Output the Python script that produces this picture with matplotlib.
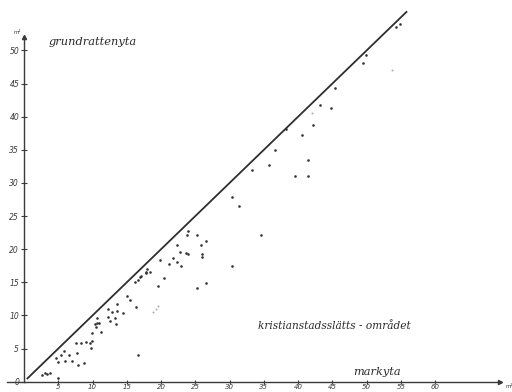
import matplotlib
matplotlib.use("Agg")
import matplotlib.pyplot as plt

# markyta (x) and grundrattenyta (y), m^2
mark_x = [2.7, 3.0, 3.4, 3.8, 4.9, 4.7, 5.0, 5.4, 5.9, 6.0, 6.6, 7.0, 7.6, 7.7, 7.9, 8.3, 8.8,
          9.1, 9.7, 9.8, 9.9, 9.9, 10.3, 10.5, 10.7, 10.6, 11.0, 11.3, 12.3, 12.8, 12.3, 12.6,
          13.3, 13.4, 13.6, 13.6, 14.5, 15.0, 15.5, 16.3, 16.2, 16.7, 16.9, 17.0, 16.7, 17.8,
          18.0, 18.4, 17.8, 19.8, 19.5, 20.5, 21.1, 21.7, 22.3, 22.3, 22.7, 22.9, 23.6, 23.9,
          24.0, 23.8, 25.3, 26.5, 25.8, 25.9, 26.0, 26.5, 25.2, 30.3, 30.4, 31.3, 34.6,
          33.3, 35.7, 36.6, 38.2, 39.6, 40.5, 41.4, 41.4, 42.2, 43.2, 44.8, 45.4, 49.5, 49.9,
          54.3, 54.8]
grund_y = [0.95, 1.3, 1.2, 1.35, 0.55, 3.6, 3.0, 4.1, 4.6, 3.1, 4.1, 3.1, 5.8, 4.3, 2.5, 5.8, 2.9,
           6.0, 5.9, 5.1, 7.3, 6.2, 8.7, 8.2, 9.6, 8.9, 8.9, 7.5, 10.9, 10.5, 9.8, 9.1,
           9.6, 8.7, 11.7, 10.7, 10.4, 13.0, 12.3, 11.3, 15.1, 15.3, 15.8, 16.0, 4.1, 16.4,
           17.0, 16.6, 16.5, 18.4, 14.5, 15.6, 17.7, 18.6, 18.1, 20.7, 19.6, 17.5, 19.4, 19.3,
           22.7, 22.2, 22.2, 21.2, 20.6, 19.2, 18.8, 14.9, 14.1, 17.4, 27.9, 26.5, 22.1,
           32.0, 32.7, 34.9, 38.1, 31.0, 37.3, 33.4, 31.0, 38.8, 41.7, 41.3, 44.3, 48.1, 49.3,
           53.6, 54.0]
# faint marks
faint_x = [19.5, 19.3, 18.8, 42.0, 53.7]
faint_y = [11.5, 11.0, 10.5, 40.6, 47.1]

line_x = [0.5, 55.8]
line_y = [0.5, 55.8]

x_ticks = [5, 10, 15, 20, 25, 30, 35, 40, 45, 50, 55, 60]
y_ticks = [0, 5, 10, 15, 20, 25, 30, 35, 40, 45, 50]

ink = "#3a3a3a"
fig = plt.figure(figsize=(5.12, 3.92), dpi=100)
ax = fig.add_axes([0, 0, 1, 1])
ax.set_xlim(-3.5, 71.2)
ax.set_ylim(-1.55, 57.6)

for s in ["top", "right"]:
    ax.spines[s].set_visible(False)
ax.spines["left"].set_position(("data", 0))
ax.spines["bottom"].set_position(("data", 0))
ax.spines["left"].set_bounds(0, 52)
ax.spines["bottom"].set_bounds(-2.5, 69.5)
for s in ["left", "bottom"]:
    ax.spines[s].set_color(ink)
    ax.spines[s].set_linewidth(1.0)

ax.plot([69.5], [0], marker=">", color=ink, markersize=3, clip_on=False)
ax.plot([0], [52], marker="^", color=ink, markersize=3, clip_on=False)

ax.set_xticks(x_ticks)
ax.set_yticks(y_ticks)
ax.set_xticklabels([str(t) for t in x_ticks], fontsize=5, style="italic", color=ink)
ax.set_yticklabels([str(t) for t in y_ticks], fontsize=5.5, style="italic", color=ink)
ax.tick_params(axis="y", direction="inout", length=4, width=0.8, color=ink, pad=1.5)
ax.tick_params(axis="x", direction="inout", length=3, width=0.8, color=ink, pad=0.3)

ax.plot(line_x, line_y, color="#2e2e2e", linewidth=1.3)
ax.scatter(mark_x, grund_y, s=3.5, color="#333333", linewidths=0, zorder=3)
ax.scatter(faint_x, faint_y, s=2, color="#aaaaaa", linewidths=0, zorder=3)

ax.text(3.6, 50.8, "grundrattenyta", fontsize=8.2, style="italic", color="#2a2a2a",
        family="DejaVu Serif")
ax.text(34.2, 8.0, "kristianstadsslätts - området", fontsize=7.6, style="italic",
        color="#2a2a2a", family="DejaVu Serif")
ax.text(48.0, 1.0, "markyta", fontsize=8.2, style="italic", color="#2a2a2a",
        family="DejaVu Serif")
ax.text(-1.6, 52.5, "m²", fontsize=4, color=ink)
ax.text(70.3, -1.0, "m²", fontsize=4, color=ink)

fig.savefig("out.png", dpi=100, facecolor="white")
